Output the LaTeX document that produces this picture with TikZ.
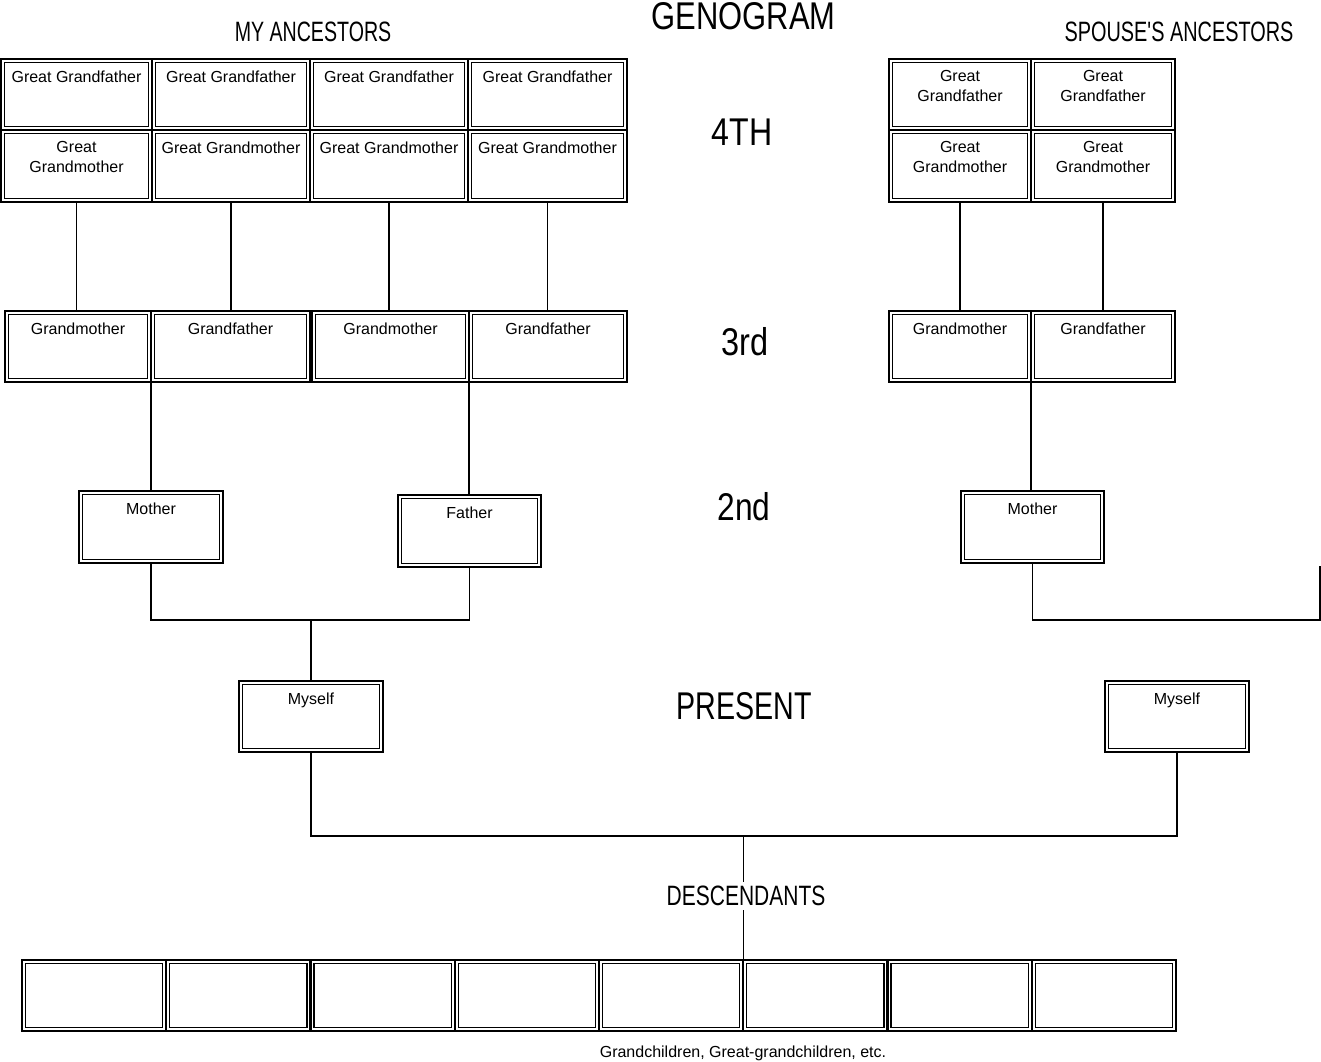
\documentclass[tikz,border=0pt]{standalone}
\usepackage{fontspec}
\setmainfont{Liberation Sans}
\newfontfamily\headfont{Liberation Sans}
\usepackage{graphicx}
\newdimen\pxu \pxu=0.75pt
\tikzset{
  dbox/.style={draw, line width=2.2\pxu, inner sep=0pt, outer sep=0pt,
    path picture={\draw[line width=1.1\pxu]
      ([xshift=3.5\pxu,yshift=-3.5\pxu]path picture bounding box.north west) rectangle
      ([xshift=-3.5\pxu,yshift=3.5\pxu]path picture bounding box.south east);}},
  cell/.style={anchor=north, inner sep=0pt, yshift=-11.5\pxu, align=center,
    font=\fontsize{12}{14.3}\selectfont},
  conn/.style={line width=1.1\pxu},
  head/.style={inner sep=0pt, font=\headfont\fontsize{21}{21}\selectfont},
  big/.style={inner sep=0pt, font=\headfont\fontsize{29}{29}\selectfont},
}
\begin{document}
\begin{tikzpicture}[x=0.75pt,y=-0.75pt]
\useasboundingbox[fill=white] (0,0) rectangle (1321,1062);

% headings
\node[big] (title) at (743.5,16) {\scalebox{0.8}[1]{GENOGRAM}};
\node[head] (myanc) at (313,32) {\scalebox{0.7}[1]{MY ANCESTORS}};
\node[head] (spanc) at (1179,32) {\scalebox{0.71}[1]{SPOUSE'S ANCESTORS}};
\node[big] (g4) at (742,132) {\scalebox{0.83}[1]{4TH}};
\node[big] (g3) at (745,342) {\scalebox{0.84}[1]{3rd}};
\node[big] (g2) at (744,507) {\scalebox{0.82}[1]{2nd}};
\node[big] (present) at (744,706) {\scalebox{0.74}[1]{PRESENT}};
\node[head, inner sep=4\pxu] (desc) at (746,896) {\scalebox{0.75}[1]{DESCENDANTS}};
\node[inner sep=0pt, font=\fontsize{12}{14}\selectfont] (foot) at (743,1053) {Grandchildren, Great-grandchildren, etc.};

% 4th generation, my side
\node[dbox, minimum width=151\pxu, minimum height=71\pxu, label={[cell]north:Great Grandfather}] (ggf1) at (76.5,94.5) {};
\node[dbox, minimum width=158\pxu, minimum height=71\pxu, label={[cell]north:Great Grandfather}] (ggf2) at (231,94.5) {};
\node[dbox, minimum width=158\pxu, minimum height=71\pxu, label={[cell]north:Great Grandfather}] (ggf3) at (389,94.5) {};
\node[dbox, minimum width=159\pxu, minimum height=71\pxu, label={[cell]north:Great Grandfather}] (ggf4) at (547.5,94.5) {};
\node[dbox, minimum width=151\pxu, minimum height=72\pxu, label={[cell]north:{Great\\Grandmother}}] (ggm1) at (76.5,166) {};
\node[dbox, minimum width=158\pxu, minimum height=72\pxu, label={[cell]north:Great Grandmother}] (ggm2) at (231,166) {};
\node[dbox, minimum width=158\pxu, minimum height=72\pxu, label={[cell]north:Great Grandmother}] (ggm3) at (389,166) {};
\node[dbox, minimum width=159\pxu, minimum height=72\pxu, label={[cell]north:Great Grandmother}] (ggm4) at (547.5,166) {};

% 4th generation, spouse side
\node[dbox, minimum width=142\pxu, minimum height=71\pxu, label={[cell]north:{Great\\Grandfather}}] (sgf1) at (960,94.5) {};
\node[dbox, minimum width=144\pxu, minimum height=71\pxu, label={[cell]north:{Great\\Grandfather}}] (sgf2) at (1103,94.5) {};
\node[dbox, minimum width=142\pxu, minimum height=72\pxu, label={[cell]north:{Great\\Grandmother}}] (sgm1) at (960,166) {};
\node[dbox, minimum width=144\pxu, minimum height=72\pxu, label={[cell]north:{Great\\Grandmother}}] (sgm2) at (1103,166) {};

% 3rd generation
\node[dbox, minimum width=146\pxu, minimum height=71\pxu, label={[cell]north:Grandmother}] (g3a) at (78,346.5) {};
\node[dbox, minimum width=159\pxu, minimum height=71\pxu, label={[cell]north:Grandfather}] (g3b) at (230.5,346.5) {};
\node[dbox, minimum width=157\pxu, minimum height=71\pxu, label={[cell]north:Grandmother}] (g3c) at (390.5,346.5) {};
\node[dbox, minimum width=158\pxu, minimum height=71\pxu, label={[cell]north:Grandfather}] (g3d) at (548,346.5) {};
\node[dbox, minimum width=142\pxu, minimum height=71\pxu, label={[cell]north:Grandmother}] (s3a) at (960,346.5) {};
\node[dbox, minimum width=144\pxu, minimum height=71\pxu, label={[cell]north:Grandfather}] (s3b) at (1103,346.5) {};

% 2nd generation
\node[dbox, minimum width=144\pxu, minimum height=72\pxu, label={[cell]north:Mother}] (mother) at (151,527) {};
\node[dbox, minimum width=143\pxu, minimum height=72\pxu, label={[cell]north:Father}] (father) at (469.5,531) {};
\node[dbox, minimum width=143\pxu, minimum height=72\pxu, label={[cell]north:Mother}] (smother) at (1032.5,527) {};

% present
\node[dbox, minimum width=144\pxu, minimum height=71\pxu, label={[cell]north:Myself}] (myself) at (311,716.5) {};
\node[dbox, minimum width=144\pxu, minimum height=71\pxu, label={[cell]north:Myself}] (myself2) at (1177,716.5) {};

% descendants
\foreach \i in {1,...,8}
  \node[dbox, minimum width=144.25\pxu, minimum height=71\pxu] (d\i) at ({22+144.25*(\i-0.5)},995.5) {};

% connectors 4th -> 3rd
\draw[conn] (ggm1.south) -- (ggm1.south |- g3a.north);
\draw[conn] (ggm2.south) -- (ggm2.south |- g3b.north);
\draw[conn] (ggm3.south) -- (ggm3.south |- g3c.north);
\draw[conn] (ggm4.south) -- (ggm4.south |- g3d.north);
\draw[conn] (sgm1.south) -- (sgm1.south |- s3a.north);
\draw[conn] (sgm2.south) -- (sgm2.south |- s3b.north);

% 3rd -> 2nd
\draw[conn] (g3a.south east) -- (g3a.south east |- mother.north);
\draw[conn] (g3c.south east) -- (g3c.south east |- father.north);
\draw[conn] (s3a.south east) -- (s3a.south east |- smother.north);

% 2nd -> present
\coordinate (j1) at (311,620);
\draw[conn] (mother.south) |- (j1) -| (father.south);
\draw[conn] (j1) -- (myself.north);
\coordinate (sc) at (1320,620);
\coordinate (send) at (1320,566);
\draw[conn] (smother.south) |- (sc) -- (send);

% present -> descendants
\coordinate (jc) at (743.25,836);
\draw[conn] (myself.south) |- (jc) -| (myself2.south);
\draw[conn] (jc) -- (jc |- desc.north);
\draw[conn] (jc |- desc.south) -- (jc |- d6.north);
\end{tikzpicture}
\end{document}
